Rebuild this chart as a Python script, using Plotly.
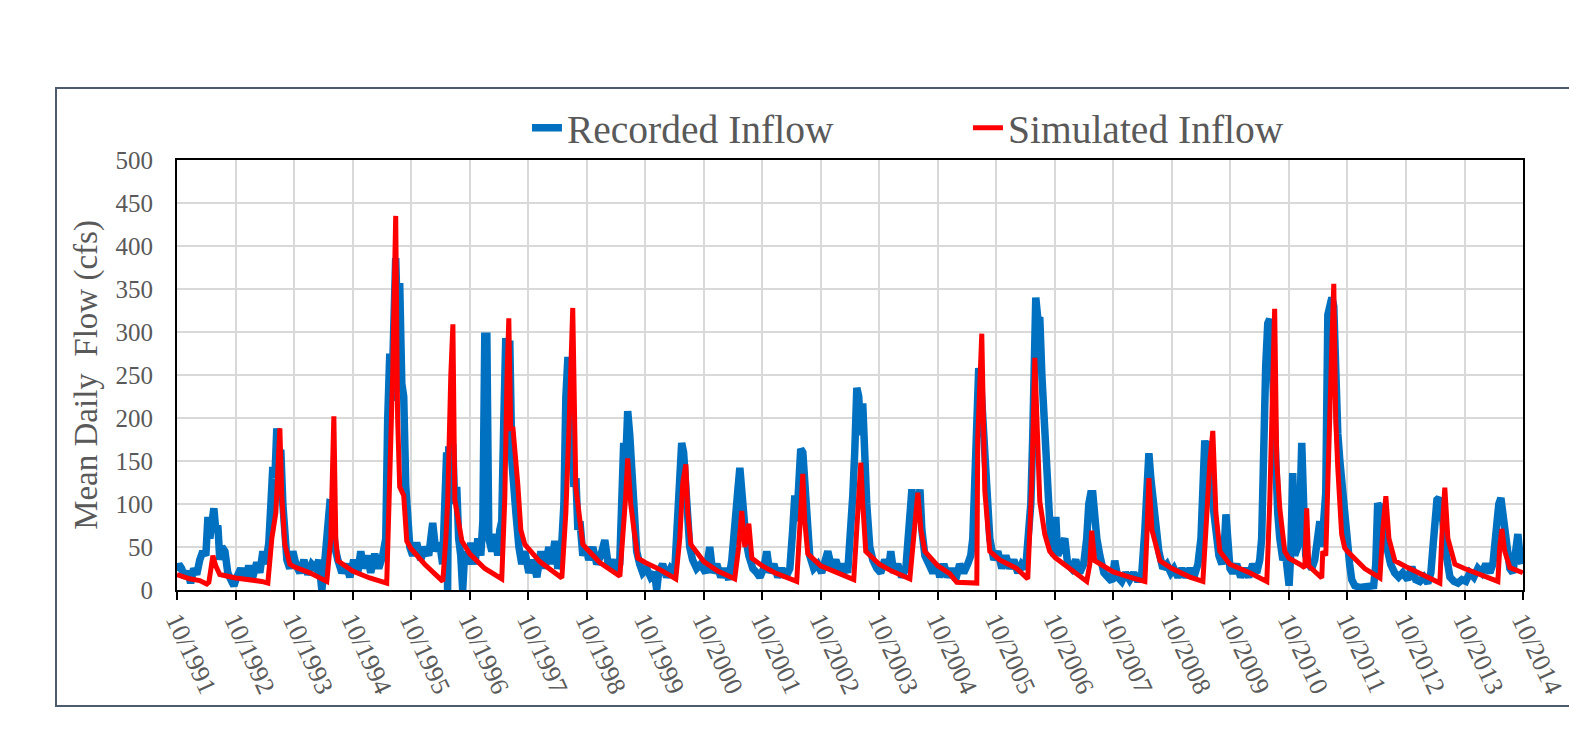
import plotly.graph_objects as go

# ---------------- data ----------------
rec_dates = [
    "1991-10-01","1991-10-13","1991-10-30","1991-11-18","1991-12-07","1991-12-25","1992-01-13","1992-02-01","1992-02-20","1992-03-10",
    "1992-03-29","1992-04-11","1992-04-23","1992-05-05","1992-05-18","1992-05-30","1992-06-12","1992-06-24","1992-07-07","1992-07-26",
    "1992-08-13","1992-09-01","1992-09-20",
    "1992-10-08","1992-11-02","1992-11-27","1992-12-22","1993-01-16","1993-02-10","1993-03-01","1993-03-20","1993-04-07","1993-04-26",
    "1993-05-09","1993-05-21","1993-06-03","1993-06-15","1993-06-28","1993-07-10","1993-07-23","1993-08-04","1993-08-17","1993-09-04","1993-09-23",
    "1993-10-12","1993-11-06","1993-12-01","1993-12-25","1994-01-19","1994-02-13","1994-03-04","1994-03-17","1994-03-23","1994-04-04",
    "1994-04-17","1994-04-29","1994-05-12","1994-05-30","1994-06-12","1994-07-01","1994-07-26","1994-08-20","1994-09-14",
    "1994-10-08","1994-11-02","1994-11-21","1994-12-09","1995-01-03","1995-01-22","1995-02-16","1995-03-13","1995-04-07","1995-04-26",
    "1995-05-08","1995-05-21","1995-06-02","1995-06-15","1995-06-27","1995-07-10","1995-07-22","1995-08-04","1995-08-16","1995-08-29",
    "1995-09-10","1995-09-23",
    "1995-10-11","1995-11-05","1995-11-30","1995-12-25","1996-01-19","1996-02-13","1996-03-03","1996-03-27","1996-04-15","1996-04-28",
    "1996-05-10","1996-05-16","1996-05-23","1996-06-04","1996-06-17","1996-06-29","1996-07-12","1996-07-24","1996-08-06","1996-08-18",
    "1996-08-31","1996-09-18",
    "1996-10-08","1996-11-02","1996-11-21","1996-12-09","1996-12-22","1997-01-03","1997-01-16","1997-01-28","1997-02-16","1997-03-07",
    "1997-03-25","1997-04-07","1997-04-19","1997-05-02","1997-05-14","1997-05-27","1997-06-08","1997-06-21","1997-07-03","1997-07-16",
    "1997-08-04","1997-08-22","1997-09-10",
    "1997-10-05","1997-10-30","1997-11-24","1997-12-19","1998-01-13","1998-02-07","1998-02-25","1998-03-16","1998-04-04","1998-04-23",
    "1998-05-12","1998-05-24","1998-06-06","1998-06-18","1998-07-01","1998-07-13","1998-07-26","1998-08-07","1998-08-20","1998-09-07",
    "1998-09-26",
    "1998-10-14","1998-11-08","1998-12-03","1998-12-28","1999-01-22","1999-02-16","1999-03-13","1999-04-07","1999-04-25","1999-05-08",
    "1999-05-20","1999-06-02","1999-06-14","1999-06-27","1999-07-09","1999-07-22","1999-08-09","1999-08-28","1999-09-16",
    "1999-10-10","1999-11-04","1999-11-29","1999-12-12","1999-12-24","2000-01-18","2000-02-12","2000-03-08","2000-04-02","2000-04-21",
    "2000-05-03","2000-05-16","2000-05-28","2000-06-10","2000-06-22","2000-07-05","2000-07-23","2000-08-17","2000-09-11",
    "2000-10-13","2000-11-07","2000-11-26","2000-12-21","2001-01-15","2001-02-09","2001-03-06","2001-03-25","2001-04-06","2001-04-19",
    "2001-05-01","2001-05-14","2001-05-26","2001-06-08","2001-06-20","2001-07-09","2001-08-03","2001-08-28","2001-09-16",
    "2001-10-10","2001-10-29","2001-11-17","2001-12-12","2002-01-06","2002-01-31","2002-02-25","2002-03-22","2002-04-09","2002-04-22",
    "2002-05-04","2002-05-17","2002-05-29","2002-06-11","2002-06-23","2002-07-06","2002-07-24","2002-08-18","2002-09-12",
    "2002-10-07","2002-11-01","2002-11-14","2002-12-09","2003-01-03","2003-01-28","2003-02-22","2003-03-18","2003-04-06","2003-04-19",
    "2003-05-01","2003-05-14","2003-05-26","2003-06-08","2003-06-20","2003-07-03","2003-07-15","2003-08-03","2003-08-22","2003-09-16",
    "2003-10-10","2003-11-04","2003-11-29","2003-12-12","2003-12-30","2004-01-24","2004-02-18","2004-03-15","2004-03-28","2004-04-09",
    "2004-04-22","2004-05-04","2004-05-17","2004-05-29","2004-06-11","2004-06-23","2004-07-12","2004-08-06","2004-08-31","2004-09-25",
    "2004-10-13","2004-11-07","2004-12-02","2004-12-27","2005-01-20","2005-02-14","2005-03-11","2005-04-05","2005-04-24","2005-05-07",
    "2005-05-19","2005-06-01","2005-06-13","2005-06-26","2005-07-08","2005-07-21","2005-08-02","2005-08-21","2005-09-15",
    "2005-10-10","2005-11-04","2005-11-29","2005-12-24","2006-01-18","2006-02-12","2006-03-08","2006-04-02","2006-04-21","2006-05-04",
    "2006-05-16","2006-05-29","2006-06-04","2006-06-17","2006-06-29","2006-07-12","2006-07-24","2006-08-06","2006-08-18","2006-09-06",
    "2006-09-25",
    "2006-10-07","2006-10-19","2006-11-07","2006-12-02","2006-12-20","2007-01-14","2007-02-08","2007-03-05","2007-03-30","2007-04-18",
    "2007-05-01","2007-05-13","2007-05-26","2007-06-07","2007-06-20","2007-07-09","2007-08-03","2007-08-28","2007-09-22",
    "2007-10-10","2007-10-28","2007-11-22","2007-12-17","2008-01-11","2008-02-05","2008-03-02","2008-03-27","2008-04-15","2008-04-27",
    "2008-05-10","2008-05-22","2008-06-04","2008-06-23","2008-07-11","2008-08-05","2008-08-30","2008-09-24",
    "2008-10-13","2008-11-07","2008-12-02","2008-12-27","2009-01-21","2009-02-15","2009-03-12","2009-03-31","2009-04-12","2009-04-24",
    "2009-05-07","2009-05-19","2009-06-01","2009-06-13","2009-07-02","2009-07-21","2009-08-09","2009-08-22","2009-09-03","2009-09-16",
    "2009-09-28",
    "2009-10-15","2009-11-09","2009-12-04","2009-12-29","2010-01-23","2010-02-17","2010-03-14","2010-04-02","2010-04-14","2010-04-27",
    "2010-05-09","2010-05-22","2010-06-03","2010-06-16","2010-06-28","2010-07-11","2010-07-23","2010-08-05","2010-08-24","2010-09-11",
    "2010-10-02","2010-10-12","2010-10-25","2010-11-06","2010-11-25","2010-12-07","2010-12-20","2011-01-01","2011-01-14","2011-02-02",
    "2011-02-21","2011-03-11","2011-03-30","2011-04-12","2011-04-24","2011-05-07","2011-05-19","2011-06-01","2011-06-13","2011-06-26",
    "2011-07-08","2011-07-21","2011-08-02","2011-08-15","2011-08-27","2011-09-09","2011-09-21",
    "2011-10-03","2011-10-15","2011-10-28","2011-11-16","2011-12-17","2012-01-17","2012-02-17","2012-03-13","2012-03-26","2012-04-07",
    "2012-04-20","2012-05-02","2012-05-15","2012-05-27","2012-06-09","2012-06-27","2012-07-22","2012-08-16","2012-09-10",
    "2012-10-12","2012-11-06","2012-12-01","2012-12-26","2013-01-20","2013-02-14","2013-03-05","2013-03-18","2013-03-30","2013-04-12",
    "2013-04-24","2013-05-07","2013-05-19","2013-06-01","2013-06-13","2013-07-02","2013-07-27","2013-08-21","2013-09-15",
    "2013-10-09","2013-11-03","2013-11-28","2013-12-23","2014-01-17","2014-02-11","2014-03-08","2014-03-27","2014-04-08","2014-04-21",
    "2014-05-03","2014-05-16","2014-05-28","2014-06-10","2014-06-22","2014-07-11","2014-07-30","2014-08-18","2014-08-30","2014-09-12",
    "2014-09-24",
]
rec_flow = [
    22, 30, 25, 14, 22, 8, 25, 18, 35, 45,
    40, 85, 60, 90, 95, 70, 75, 35, 50, 45,
    20, 12, 5,
    15, 25, 12, 28, 15, 32, 20, 45, 30, 55,
    100, 143, 130, 188, 160, 163, 99, 60, 35, 25, 45,
    30, 20, 35, 18, 30, 25, 35, 10, 0, 20,
    45, 60, 101, 100, 50, 35, 20, 30, 15,
    35, 20, 45, 25, 40, 20, 42, 25, 40, 60,
    198, 275, 220, 340, 386, 300, 357, 240, 225, 120,
    70, 50,
    40, 55, 35, 50, 40, 78, 45, 55, 30, 120,
    160, 0, 167, 140, 170, 100, 120, 60, 40, 0,
    45, 30,
    55, 30, 60, 40, 80, 295, 295, 60, 45, 65,
    40, 70, 80, 200, 293, 260, 290, 150, 110, 90,
    50, 30, 45,
    20, 35, 15, 45, 25, 50, 30, 57, 25, 35,
    100, 224, 271, 230, 200, 120, 130, 70, 80, 40,
    50,
    35, 50, 30, 40, 58, 25, 35, 20, 30, 90,
    171, 150, 208, 180, 130, 80, 45, 30, 20,
    25, 15, 20, 0, 20, 30, 15, 25, 20, 85,
    100, 171, 160, 120, 90, 50, 35, 25, 30,
    20, 50, 20, 30, 15, 25, 12, 35, 70, 90,
    115, 142, 110, 100, 60, 40, 25, 20, 15,
    25, 45, 20, 30, 15, 25, 15, 25, 70, 110,
    80, 120, 164, 160, 120, 70, 40, 25, 30,
    20, 35, 45, 25, 35, 20, 30, 20, 60, 110,
    160, 235, 225, 180, 217, 130, 100, 50, 35, 25,
    20, 35, 25, 45, 20, 30, 15, 25, 60, 80,
    117, 90, 100, 90, 117, 70, 40, 30, 20, 30,
    15, 30, 15, 25, 12, 30, 20, 30, 40, 60,
    147, 209, 258, 240, 200, 150, 85, 60, 35,
    45, 25, 40, 25, 35, 20, 30, 25, 60, 100,
    178, 270, 340, 315, 317, 250, 200, 150, 100, 55,
    40,
    85, 40, 50, 60, 30, 25, 35, 20, 30, 60,
    100, 112, 112, 80, 60, 40, 20, 15, 10,
    34, 15, 10, 20, 12, 20, 10, 20, 70, 120,
    159, 130, 107, 70, 45, 25, 30, 20,
    25, 15, 25, 15, 25, 15, 30, 60, 120, 174,
    150, 173, 120, 100, 60, 40, 30, 45, 88, 40,
    25,
    20, 30, 15, 25, 15, 30, 20, 35, 60, 200,
    260, 310, 315, 280, 200, 120, 90, 60, 35, 40,
    5, 40, 136, 40, 50, 80, 171, 100, 40, 30,
    25, 35, 60, 80, 50, 95, 113, 320, 330, 340,
    330, 240, 182, 150, 124, 90, 70,
    60, 30, 12, 5, 3, 3, 5, 5, 30, 101,
    95, 100, 60, 70, 45, 30, 20, 15, 20,
    12, 27, 12, 10, 15, 8, 20, 50, 90, 105,
    107, 95, 80, 50, 40, 15, 10, 8, 12,
    10, 20, 15, 25, 20, 30, 20, 30, 50, 90,
    100, 107, 90, 70, 40, 25, 20, 60, 65, 40,
    30,
]

sim_dates = [
    "1991-10-01","1991-12-19","1992-02-20","1992-04-04","1992-04-17","1992-04-29","1992-05-12","1992-05-30","1992-06-24",
    "1992-10-01","1992-12-29","1993-03-13","1993-04-20","1993-05-15","1993-06-09","1993-06-21","1993-07-04","1993-07-16","1993-08-04","1993-09-04",
    "1993-10-01","1994-01-07","1994-04-23","1994-05-18","1994-06-06","1994-06-18","1994-07-01",
    "1994-10-01","1995-01-16","1995-05-02","1995-05-21","1995-06-08","1995-06-27","1995-07-09","1995-07-22","1995-08-16","1995-09-04",
    "1995-10-01","1995-12-25","1996-04-16","1996-05-05","1996-05-17","1996-06-05","1996-06-18","1996-06-30","1996-07-19","1996-08-13",
    "1996-10-01","1997-01-03","1997-04-19","1997-05-08","1997-05-21","1997-06-02","1997-06-14","1997-06-27","1997-07-28","1997-08-16","1997-09-10",
    "1997-10-01","1997-12-12","1998-04-29","1998-05-24","1998-06-11","1998-06-24","1998-07-06","1998-07-25","1998-08-19","1998-09-07",
    "1998-10-01","1998-12-22","1999-04-26","1999-05-21","1999-06-02","1999-06-14","1999-07-03","1999-07-22","1999-08-16",
    "1999-10-01","1999-12-30","2000-04-09","2000-05-04","2000-05-23","2000-06-11","2000-06-23","2000-07-12",
    "2000-10-01","2000-12-27","2001-04-12","2001-05-07","2001-05-26","2001-06-14","2001-07-09","2001-07-28",
    "2001-10-01","2001-12-18","2002-05-04","2002-05-23","2002-06-11","2002-06-23","2002-07-12",
    "2002-10-01","2002-12-27","2003-04-25","2003-05-20","2003-06-08","2003-06-20","2003-07-09",
    "2003-10-01","2003-12-18","2004-04-09","2004-05-04","2004-05-29","2004-06-17","2004-07-12",
    "2004-10-01","2004-12-14","2005-01-27","2005-06-01","2005-06-07","2005-07-02","2005-07-21","2005-08-21",
    "2005-10-22","2006-02-05","2006-04-15","2006-05-10","2006-05-29","2006-06-29","2006-07-30","2006-08-30",
    "2006-10-01","2007-01-02","2007-04-18","2007-05-07","2007-05-19","2007-06-07",
    "2007-10-01","2008-01-11","2008-04-15","2008-04-27","2008-05-10","2008-05-29","2008-07-18",
    "2008-10-01","2009-01-21","2009-04-12","2009-05-01","2009-05-13","2009-05-26","2009-06-13","2009-07-02","2009-07-27","2009-09-27",
    "2010-01-29","2010-05-16","2010-06-03","2010-06-16","2010-07-04","2010-07-17","2010-08-05","2010-09-05",
    "2010-10-01","2010-12-07","2011-01-08","2011-01-20","2011-02-02","2011-04-24","2011-04-30","2011-05-19","2011-05-31","2011-06-13",
    "2011-06-25","2011-07-08","2011-07-20","2011-08-02","2011-08-26","2011-09-14",
    "2011-10-01","2012-01-17","2012-04-21","2012-05-09","2012-05-28","2012-06-16","2012-07-23",
    "2012-10-01","2013-01-26","2013-04-30","2013-05-12","2013-05-31","2013-06-19","2013-08-02",
    "2013-10-01","2014-01-04","2014-04-27","2014-05-09","2014-05-22","2014-06-09","2014-07-11","2014-09-30",
]
sim_flow = [
    18, 13, 11, 7, 9, 30, 40, 28, 18,
    14, 12, 10, 8, 60, 90, 150, 188, 110, 53, 30,
    27, 20, 10, 60, 202, 60, 34,
    22, 14, 8, 112, 250, 435, 200, 120, 110, 57,
    48, 30, 10, 60, 105, 250, 309, 105, 80, 57,
    42, 25, 13, 107, 240, 316, 185, 190, 123, 70, 53,
    48, 33, 14, 90, 180, 260, 328, 120, 84, 53,
    48, 32, 16, 70, 110, 153, 100, 72, 37,
    32, 24, 13, 60, 125, 146, 90, 53,
    33, 22, 13, 50, 92, 50, 77, 37,
    28, 20, 10, 70, 135, 80, 42,
    28, 21, 12, 90, 148, 100, 45,
    30, 22, 13, 60, 113, 70, 45,
    28, 19, 9, 8, 177, 298, 115, 45,
    35, 25, 13, 123, 270, 103, 65, 45,
    38, 25, 10, 30, 69, 34,
    21, 15, 10, 60, 130, 70, 34,
    25, 15, 10, 70, 112, 150, 185, 90, 45, 30,
    20, 10, 100, 200, 327, 150, 95, 45,
    37, 30, 26, 95, 28, 14, 45, 40, 130, 181,
    280, 356, 200, 142, 65, 49,
    45, 25, 14, 70, 109, 60, 34,
    27, 17, 8, 60, 119, 60, 30,
    25, 18, 10, 50, 71, 45, 26, 20,
]

tick_dates = ["1991-10-01","1992-10-01","1993-10-01","1994-10-01","1995-10-01","1996-10-01","1997-10-01","1998-10-01",
              "1999-10-01","2000-10-01","2001-10-01","2002-10-01","2003-10-01","2004-10-01","2005-10-01","2006-10-01",
              "2007-10-01","2008-10-01","2009-10-01","2010-10-01","2011-10-01","2012-10-01","2013-10-01","2014-10-01"]
tick_labels = ["10/1991","10/1992","10/1993","10/1994","10/1995","10/1996","10/1997","10/1998",
               "10/1999","10/2000","10/2001","10/2002","10/2003","10/2004","10/2005","10/2006",
               "10/2007","10/2008","10/2009","10/2010","10/2011","10/2012","10/2013","10/2014"]
y_ticks = [0, 50, 100, 150, 200, 250, 300, 350, 400, 450, 500]

# ---------------- figure ----------------
FONT = "Liberation Serif, Times New Roman, serif"
GREY = "#595959"

fig = go.Figure()
fig.add_trace(go.Scatter(x=rec_dates, y=rec_flow, mode="lines", name="Recorded Inflow",
                         line=dict(color="#0070C0", width=7.5)))
fig.add_trace(go.Scatter(x=sim_dates, y=sim_flow, mode="lines", name="Simulated Inflow",
                         line=dict(color="#FF0000", width=5)))

# the page body adds an 8 px margin, so the figure is 8 px smaller than the window
fig.update_layout(
    width=1569, height=733,
    paper_bgcolor="white", plot_bgcolor="white",
    margin=dict(l=169, r=54, t=152, b=151, autoexpand=False),
    font=dict(family=FONT, color=GREY),
    showlegend=True,
    legend=dict(orientation="h", x=0.26, xanchor="left", y=1.074, yanchor="middle",
                font=dict(family=FONT, size=39.5, color=GREY),
                entrywidth=396, entrywidthmode="pixels",
                bgcolor="rgba(0,0,0,0)"),
    xaxis=dict(type="date", range=["1991-10-01", "2014-10-01"],
               tickmode="array", tickvals=tick_dates, ticktext=tick_labels,
               tickangle=65, tickfont=dict(family=FONT, size=26, color=GREY),
               ticks="outside", ticklen=8, tickwidth=2, tickcolor="black",
               ticklabelstandoff=-5,
               showgrid=True, gridcolor="#D9D9D9", gridwidth=2,
               showline=True, linecolor="black", linewidth=2, mirror=True,
               zeroline=False),
    yaxis=dict(range=[0, 500], tickmode="array", tickvals=y_ticks,
               tickfont=dict(family=FONT, size=25, color=GREY),
               ticks="", ticklabelstandoff=17,
               showgrid=True, gridcolor="#D9D9D9", gridwidth=2,
               showline=True, linecolor="black", linewidth=2, mirror=True,
               zeroline=False,
               title=dict(text="Mean Daily  Flow (cfs)", standoff=8,
                          font=dict(family=FONT, size=33, color=GREY))),
    shapes=[dict(type="rect", xref="paper", yref="paper",
                 x0=-0.0899, x1=1.1, y0=-0.2698, y1=1.1674,
                 line=dict(color="#4E5B6E", width=2), fillcolor="rgba(0,0,0,0)", layer="below")],
)

fig.write_html("out.html")
